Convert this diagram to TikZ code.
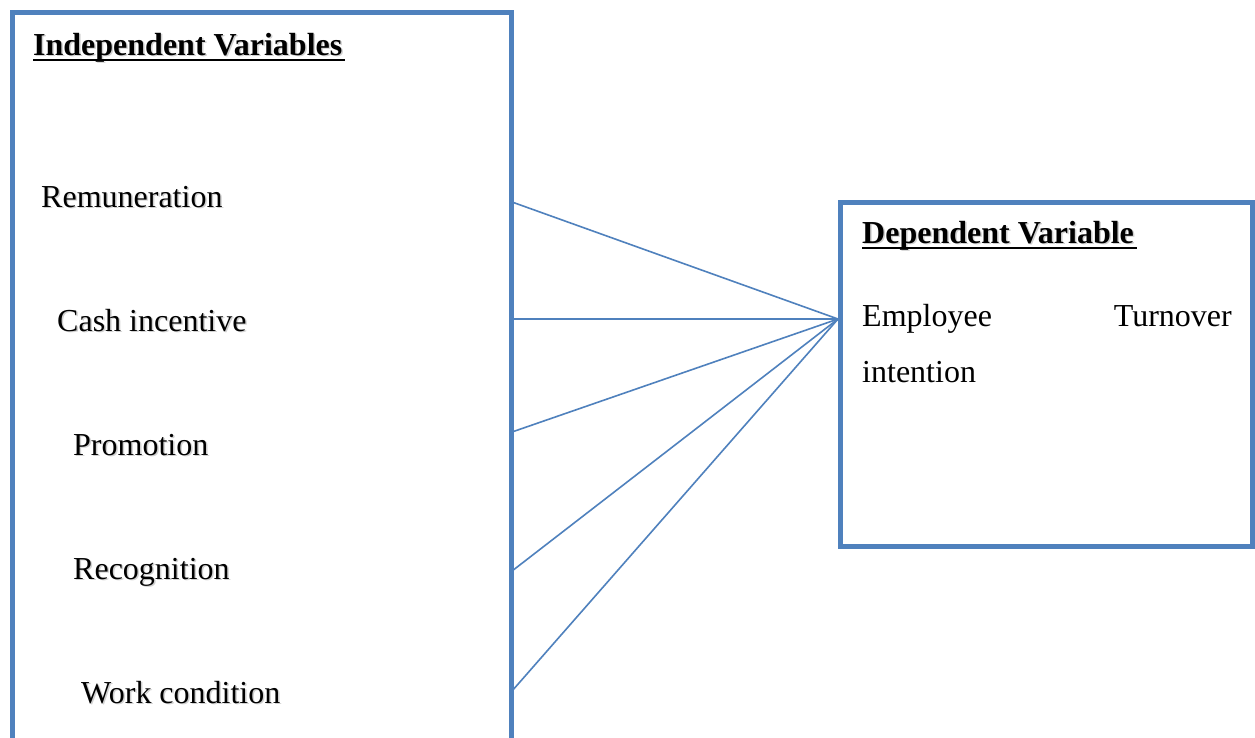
\documentclass[tikz,border=0pt]{standalone}
\usepackage{fontspec}
\setmainfont{Liberation Serif}
\definecolor{boxblue}{RGB}{79,129,189}
\tikzset{
  frame/.style={draw=boxblue, line width=5pt, fill=white, inner sep=0pt, outer sep=0pt},
  link/.style={draw=boxblue, line width=1.6pt},
  lbl/.style={anchor=base west, inner sep=0pt, font=\fontsize{32pt}{38pt}\selectfont},
  head/.style={lbl, font=\fontsize{32pt}{38pt}\selectfont\bfseries},
}
\begin{document}
\begin{tikzpicture}[x=1pt,y=-1pt]
\clip (0,0) rectangle (1255,737);
\fill[white] (0,0) rectangle (1255,737);
% boxes
\node[frame, minimum width=499pt, minimum height=760pt, anchor=north west] (L) at (12,12) {};
\node[frame, minimum width=412pt, minimum height=344pt, anchor=north west] (R) at (840.5,202.5) {};
% connector points
\coordinate (hub) at (838,319);
\coordinate (s1) at (512,202);
\coordinate (s2) at (512,319);
\coordinate (s3) at (512,432);
\coordinate (s4) at (512,571);
\coordinate (s5) at (512,691);
\foreach \s in {s1,s2,s3,s4,s5} \draw[link] (\s) -- (hub);
% shadows
\begin{scope}[text=black!18, shift={(1.5,1.5)}]
\node[head] at (33,55) {Independent Variables};
\node[lbl] at (41,207) {Remuneration};
\node[lbl] at (57,331) {Cash incentive};
\node[lbl] at (73,455) {Promotion};
\node[lbl] at (73,579) {Recognition};
\node[lbl] at (81,703) {Work condition};
\node[head] at (862,243) {Dependent Variable};
\end{scope}
% texts
\node[head] (ivh) at (33,55) {Independent Variables};
\draw[line width=2.5pt] (33,60) -- (345,60);
\node[lbl] (t1) at (41,207) {Remuneration};
\node[lbl] (t2) at (57,331) {Cash incentive};
\node[lbl] (t3) at (73,455) {Promotion};
\node[lbl] (t4) at (73,579) {Recognition};
\node[lbl] (t5) at (81,703) {Work condition};
\node[head] (dvh) at (862,243) {Dependent Variable};
\draw[line width=2.5pt] (862,248) -- (1137,248);
\node[lbl] (d1) at (862,326) {Employee};
\node[lbl, anchor=base east] (d2) at (1232,326) {Turnover};
\node[lbl] (d3) at (862,382) {intention};
\end{tikzpicture}
\end{document}
